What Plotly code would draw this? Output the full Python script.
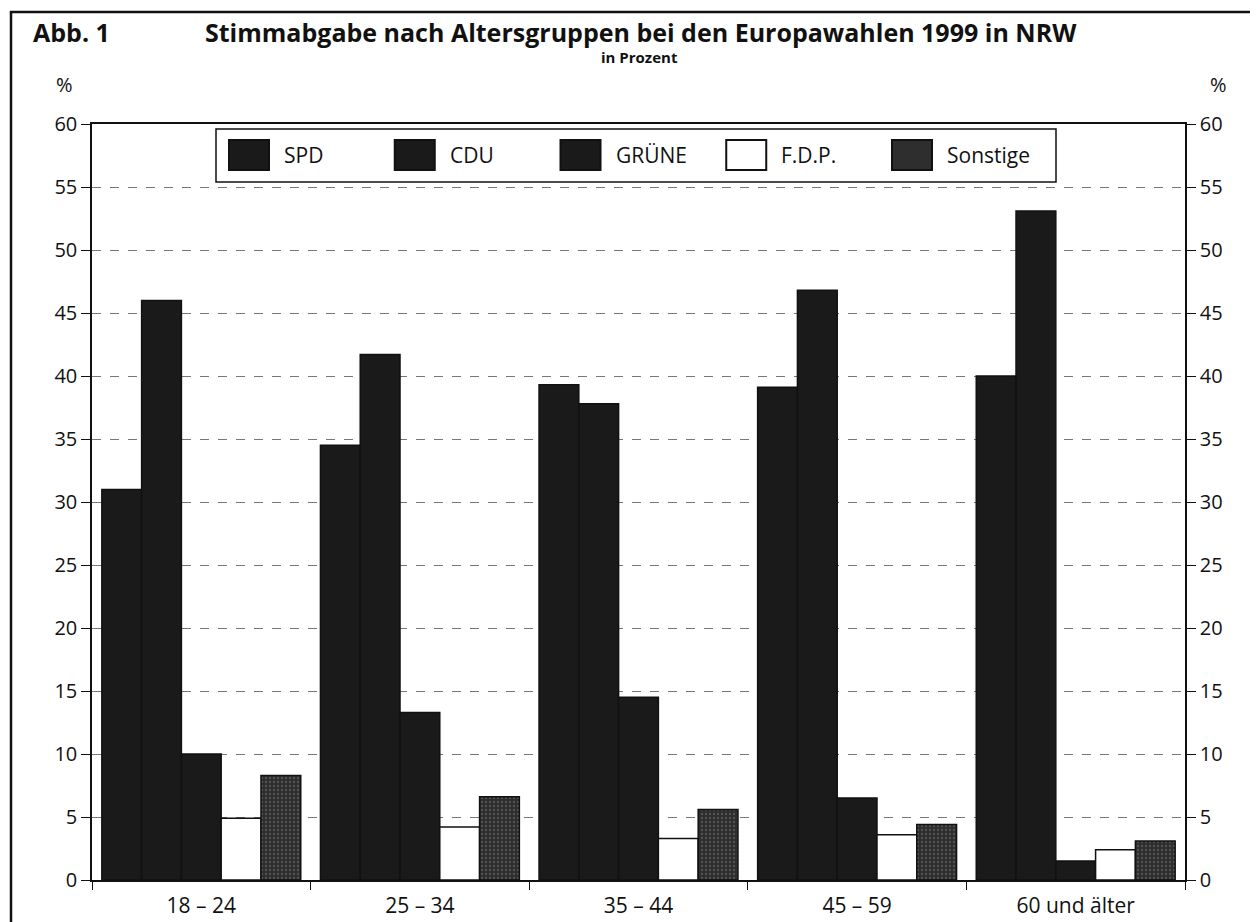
import plotly.graph_objects as go

categories = ["18 – 24", "25 – 34", "35 – 44", "45 – 59", "60 und älter"]
spd = [31.0, 34.5, 39.3, 39.1, 40.0]
cdu = [46.0, 41.7, 37.8, 46.8, 53.1]
gruene = [10.0, 13.3, 14.5, 6.5, 1.5]
fdp = [4.9, 4.2, 3.3, 3.6, 2.4]
sonstige = [8.3, 6.6, 5.6, 4.4, 3.1]
yticks = list(range(0, 61, 5))

FONT = "Open Sans"
W, H = 1250, 914          # page has an 8px body margin
L, R, T, B = 84, 73, 116, 42
PX0, PY0 = 8 + L, 8 + T   # plot origin in page pixels
PW, PH = W - L - R, H - T - B


def px(x):  # page pixel -> paper x
    return (x - PX0) / PW


def py(y):  # page pixel -> paper y
    return (PY0 + PH - y) / PH


fig = go.Figure()

series = [
    ("SPD", spd, "#1a1a1a", None),
    ("CDU", cdu, "#1a1a1a", None),
    ("GRÜNE", gruene, "#1a1a1a", None),
    ("F.D.P.", fdp, "#ffffff", None),
    ("Sonstige", sonstige, "#2e2e2e", dict(shape=".", fgcolor="#7a7a7a", size=4, solidity=0.25)),
]
for name, vals, col, pat in series:
    m = dict(color=col, line=dict(color="#111111", width=1.5))
    if pat:
        m["pattern"] = pat
    fig.add_trace(go.Bar(name=name, x=categories, y=vals, marker=m, showlegend=False))

# invisible trace for the right axis
fig.add_trace(go.Scatter(x=[categories[0]], y=[0], yaxis="y2", mode="markers",
                         marker=dict(opacity=0), showlegend=False, hoverinfo="skip"))

shapes = [
    # outer frame
    dict(type="rect", xref="paper", yref="paper", x0=px(11), x1=px(1264), y0=py(960), y1=py(12),
         line=dict(color="#111111", width=2.5), fillcolor="rgba(0,0,0,0)", layer="above"),
    # legend box
    dict(type="rect", xref="paper", yref="paper", x0=px(216), x1=px(1056), y0=py(182), y1=py(129),
         line=dict(color="#111111", width=1.5), fillcolor="white", layer="above"),
]
annotations = []
for i, (name, vals, col, pat) in enumerate(series):
    bx = 229 + i * 165.75
    shapes.append(dict(type="rect", xref="paper", yref="paper", x0=px(bx), x1=px(bx + 40),
                       y0=py(170), y1=py(140), fillcolor=col,
                       line=dict(color="#111111", width=2), layer="above"))
    annotations.append(dict(text=name, xref="paper", yref="paper", x=px(bx + 53), y=py(155),
                            xanchor="left", yanchor="middle", showarrow=False,
                            font=dict(size=21)))

annotations += [
    dict(text="<b>Abb. 1</b>", xref="paper", yref="paper", x=px(31), y=py(32),
         xanchor="left", yanchor="middle", showarrow=False, font=dict(size=25)),
    dict(text="<b>Stimmabgabe nach Altersgruppen bei den Europawahlen 1999 in NRW</b>",
         xref="paper", yref="paper", x=px(641), y=py(32), xanchor="center",
         yanchor="middle", showarrow=False, font=dict(size=25)),
    dict(text="<b>in Prozent</b>", xref="paper", yref="paper", x=px(639), y=py(57),
         xanchor="center", yanchor="middle", showarrow=False, font=dict(size=15)),
    dict(text="%", xref="paper", yref="paper", x=px(64), y=py(85),
         xanchor="center", yanchor="middle", showarrow=False, font=dict(size=20)),
    dict(text="%", xref="paper", yref="paper", x=px(1218), y=py(85),
         xanchor="center", yanchor="middle", showarrow=False, font=dict(size=20)),
]

fig.update_layout(
    width=W, height=H,
    margin=dict(l=L, r=R, t=T, b=B, autoexpand=False),
    paper_bgcolor="white", plot_bgcolor="white",
    barmode="group", bargap=0.09, bargroupgap=0,
    font=dict(family=FONT, size=18, color="#111111"),
    showlegend=False,
    xaxis=dict(type="category", showline=True, linecolor="#111111", linewidth=1.5,
               mirror=True, ticks="outside", tickson="boundaries", ticklen=8,
               tickcolor="#111111", tickfont=dict(size=21), ticklabelstandoff=6,
               automargin=False),
    yaxis=dict(range=[0, 60], tickvals=yticks, showline=True, linecolor="#111111",
               linewidth=1.5, ticks="outside", ticklen=9, tickcolor="#111111",
               showgrid=True, gridcolor="#777777", gridwidth=1, griddash="dash",
               zeroline=False, tickfont=dict(size=20), automargin=False),
    yaxis2=dict(range=[0, 60], tickvals=yticks, overlaying="y", side="right",
                showline=True, linecolor="#111111", linewidth=1.5, ticks="outside",
                ticklen=9, tickcolor="#111111", showgrid=False, zeroline=False,
                tickfont=dict(size=20), automargin=False),
    shapes=shapes,
    annotations=annotations,
)

fig.write_html("out.html")
